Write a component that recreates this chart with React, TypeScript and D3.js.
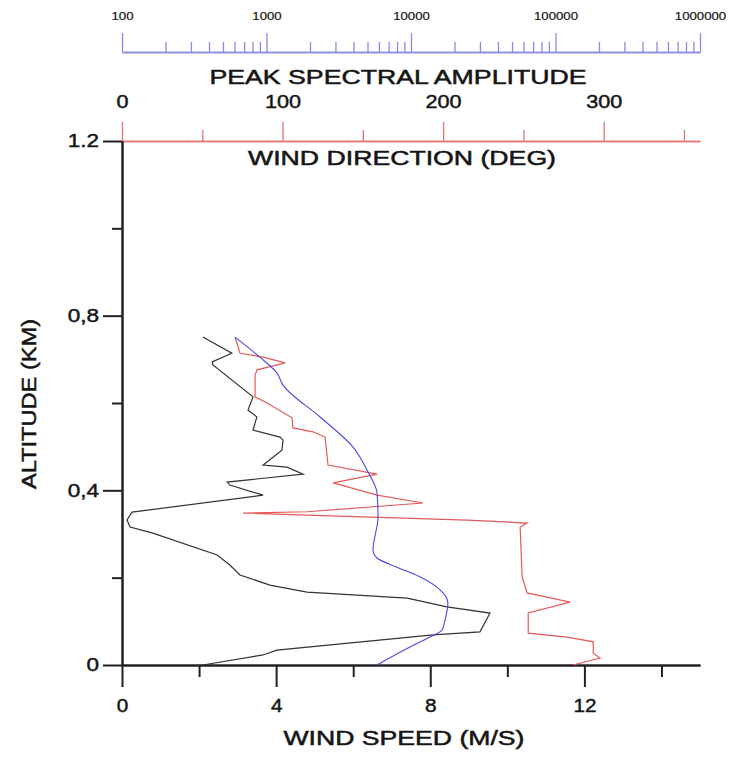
import { useEffect, useRef } from 'react';
import * as d3 from 'd3';

// wind speed profile (black), m/s vs km
const speedAlt = [0, 0.023, 0.034, 0.069, 0.076, 0.119, 0.133, 0.153, 0.167, 0.183, 0.206, 0.229, 0.252, 0.302, 0.316, 0.332, 0.35, 0.389, 0.412, 0.419, 0.437, 0.453, 0.458, 0.492, 0.515, 0.522, 0.538, 0.568, 0.584, 0.614, 0.687, 0.694, 0.714, 0.751];
const speedVal = [2.1, 3.66, 4.02, 8.07, 9.29, 9.55, 8.43, 7.4, 4.8, 3.84, 3.06, 2.8, 2.47, 0.8, 0.21, 0.13, 0.26, 3.66, 2.8, 2.73, 4.7, 4.28, 3.66, 4.15, 4.18, 4.1, 3.4, 3.5, 3.27, 3.4, 2.36, 2.34, 2.85, 2.1];

// wind direction profile (red), deg
const dirAlt = [0, 0.016, 0.027, 0.053, 0.064, 0.073, 0.119, 0.144, 0.165, 0.202, 0.316, 0.325, 0.332, 0.343, 0.348, 0.351, 0.371, 0.389, 0.417, 0.437, 0.458, 0.522, 0.534, 0.543, 0.566, 0.6, 0.614, 0.664, 0.676, 0.692, 0.705, 0.714, 0.751];
const dirVal = [281, 297.8, 293.5, 293.5, 277.3, 253, 253, 279.1, 252.3, 249.2, 248, 252.3, 215, 115.3, 75.4, 115.3, 187.5, 158.9, 131.5, 158.9, 128.3, 126.5, 119, 106.5, 105.9, 90.3, 82.9, 82.9, 84.1, 101.6, 87.9, 73.5, 70.4];

// peak spectral amplitude (blue)
const ampAlt = [0, 0.041, 0.064, 0.08, 0.103, 0.142, 0.172, 0.202, 0.224, 0.245, 0.263, 0.339, 0.394, 0.442, 0.499, 0.568, 0.641, 0.669, 0.705, 0.751];
const ampVal = [5820, 9840, 13500, 16400, 17200, 18000, 15900, 11500, 8000, 5820, 5460, 5910, 5820, 5040, 3970, 2350, 1300, 1180, 900, 605];

const altMajor = [0, 0.4, 0.8, 1.2];
const altLabels = ['0', '0,4', '0,8', '1.2'];
const altMinor = [0.2, 0.6, 1.0];
const speedMajor = [0, 4, 8, 12];
const speedMinor = [2, 6, 10, 14];
const dirMajor = [0, 100, 200, 300];
const dirMinor = [50, 150, 250, 350];
const ampMajor = [100, 1000, 10000, 100000, 1000000];

const App = () => {
  const svgRef = useRef<SVGSVGElement>(null);

  useEffect(() => {
    const svg = d3.select(svgRef.current);
    svg.selectAll('*').remove();

    const left = 122, right = 700, top = 141, bottom = 665;
    const font = 'Liberation Sans, Arial, Helvetica, sans-serif';
    const ink = '#151515';

    const y = d3.scaleLinear().domain([0, 1.2]).range([bottom, top]);
    const xSpeed = d3.scaleLinear().domain([0, 15]).range([left, right]);
    const xDir = d3.scaleLinear().domain([0, 360]).range([left, right]);
    const xAmp = d3.scaleLog().domain([100, 1000000]).range([left, right]);

    const ampMinor: number[] = [];
    ampMajor.slice(0, -1).forEach(m => {
      for (let k = 2; k < 10; k++) ampMinor.push(m * k);
    });

    // widen glyphs a bit, the original lettering is broad
    const stretch = (sel, k) => {
      sel.each(function () {
        const w = this.getComputedTextLength();
        if (w > 0) d3.select(this).attr('textLength', w * k).attr('lengthAdjust', 'spacingAndGlyphs');
      });
    };

    const styleAxis = (g, color, width, size, k, heavy = 0.45) => {
      g.selectAll('path, line').attr('stroke', color).attr('stroke-width', width);
      const t = g.selectAll('text').attr('fill', ink).style('font-family', font).style('font-size', size + 'px')
        .attr('stroke', ink).attr('stroke-width', heavy);
      stretch(t, k);
    };

    // blue log axis at top
    const gAmp = svg.append('g').attr('transform', 'translate(0,52)');
    gAmp.append('g').call(d3.axisTop(xAmp).tickValues(ampMinor).tickSize(10).tickSizeOuter(0).tickFormat(() => ''));
    gAmp.append('g').call(d3.axisTop(xAmp).tickValues(ampMajor).tickSize(19).tickSizeOuter(0).tickPadding(13).tickFormat(d => String(d)));
    styleAxis(gAmp, '#8a8ae6', 1.3, 11, 1.2, 0.2);

    // red direction axis
    const gDir = svg.append('g').attr('transform', `translate(0,${top})`);
    gDir.append('g').call(d3.axisTop(xDir).tickValues(dirMinor).tickSize(11).tickSizeOuter(0).tickFormat(() => ''));
    gDir.append('g').call(d3.axisTop(xDir).tickValues(dirMajor).tickSize(19).tickSizeOuter(0).tickPadding(14).tickFormat(d => String(d)));
    styleAxis(gDir, '#e87474', 1.3, 18, 1.2);

    // left altitude axis
    const gAlt = svg.append('g').attr('transform', `translate(${left},0)`);
    gAlt.append('g').call(d3.axisLeft(y).tickValues(altMinor).tickSize(10).tickSizeOuter(0).tickFormat(() => ''));
    gAlt.append('g').call(d3.axisLeft(y).tickValues(altMajor).tickSize(19).tickSizeOuter(0).tickPadding(4)
      .tickFormat((d, i) => altLabels[i]));
    styleAxis(gAlt, '#222', 2, 18, 1.25);

    // bottom speed axis
    const gSpd = svg.append('g').attr('transform', `translate(0,${bottom})`);
    gSpd.append('g').call(d3.axisBottom(xSpeed).tickValues(speedMinor).tickSize(12).tickSizeOuter(0).tickFormat(() => ''));
    gSpd.append('g').call(d3.axisBottom(xSpeed).tickValues(speedMajor).tickSize(22).tickSizeOuter(0).tickPadding(12).tickFormat(d => String(d)));
    styleAxis(gSpd, '#222', 2, 18, 1.15);

    // titles
    const title = (text, x, yy, len, rotate = false) => {
      const t = svg.append('text')
        .attr('text-anchor', 'middle')
        .attr('textLength', len)
        .attr('lengthAdjust', 'spacingAndGlyphs')
        .style('font-family', font)
        .style('font-size', '20px')
        .attr('fill', ink)
        .attr('stroke', ink)
        .attr('stroke-width', 0.5)
        .text(text);
      if (rotate) t.attr('transform', `translate(${x},${yy}) rotate(-90)`);
      else t.attr('x', x).attr('y', yy);
    };
    title('PEAK SPECTRAL AMPLITUDE', 398, 84, 377);
    title('WIND DIRECTION (DEG)', 402, 165, 308);
    title('WIND SPEED (M/S)', 404, 745, 241);
    title('ALTITUDE (KM)', 36, 404, 170, true);

    // profiles
    const speedLine = d3.line<number>().x((d, i) => xSpeed(speedVal[i])).y(d => y(d));
    svg.append('path').attr('d', speedLine(speedAlt)).attr('fill', 'none')
      .attr('stroke', '#333').attr('stroke-width', 1.2);

    const dirLine = d3.line<number>().x((d, i) => xDir(dirVal[i])).y(d => y(d));
    svg.append('path').attr('d', dirLine(dirAlt)).attr('fill', 'none')
      .attr('stroke', '#e35a5a').attr('stroke-width', 1.2);

    const ampLine = d3.line<number>().x((d, i) => xAmp(ampVal[i])).y(d => y(d)).curve(d3.curveMonotoneY);
    svg.append('path').attr('d', ampLine(ampAlt)).attr('fill', 'none')
      .attr('stroke', '#4a4ae0').attr('stroke-width', 1.1);
  }, []);

  return (
    <svg ref={svgRef} width={734} height={757}
      style={{ position: 'absolute', left: 0, top: 0, background: '#fff' }} />
  );
};

export default App;
